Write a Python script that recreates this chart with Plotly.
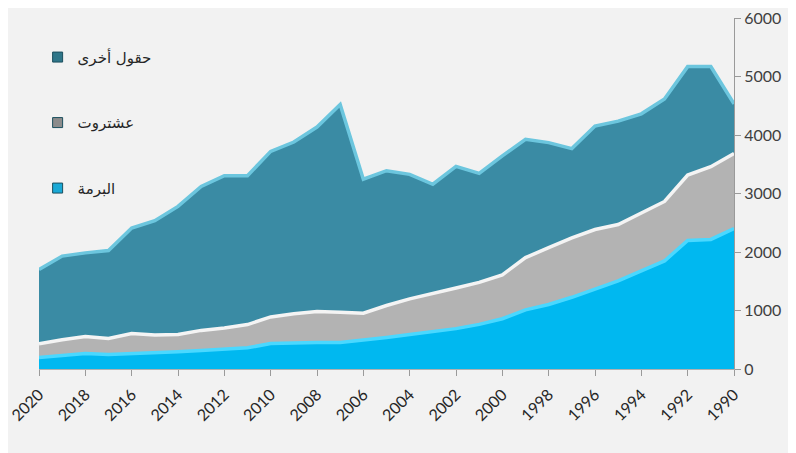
import plotly.graph_objects as go

years = list(range(2020, 1989, -1))

# البرمة (bottom layer)
burma = [198, 230, 265, 250, 255, 280, 293, 316, 333, 362, 435, 446, 452, 452, 491, 537,
         588, 632, 690, 763, 859, 1011, 1102, 1226, 1367, 1508, 1678, 1847, 2197, 2215, 2400]
# عشتروت (middle layer)
ashtarout = [232, 270, 290, 270, 350, 300, 297, 344, 367, 398, 455, 498, 531, 520, 464, 548,
             610, 662, 694, 717, 751, 893, 971, 1017, 1017, 961, 988, 1017, 1119, 1243, 1283]
# حقول أخرى (top layer)
others = [1270, 1430, 1430, 1505, 1805, 1955, 2190, 2460, 2605, 2545, 2830, 2936, 3153, 3548, 2290, 2305,
          2129, 1864, 2079, 1864, 2034, 2023, 1797, 1525, 1769, 1768, 1696, 1752, 1853, 1711, 848]

names = ["البرمة", "عشتروت", "حقول أخرى"]
series = [burma, ashtarout, others]
fills = ["#00b8f0", "#b3b3b3", "#3a8ba4"]
edges = ["#4ad8ff", "#f4f4f4", "#6cc6de"]
legend_cols = ["#1aa9d6", "#8c8c8c", "#2f7689"]
legend_rank = [3, 2, 1]

x_ticks = list(range(2020, 1989, -2))
y_ticks = [0, 1000, 2000, 3000, 4000, 5000, 6000]

fig = go.Figure()
for i, (nm, vals) in enumerate(zip(names, series)):
    fig.add_trace(go.Scatter(
        x=years, y=vals, name=nm, stackgroup="one", mode="lines",
        line=dict(color=edges[i], width=3.5, shape="linear"),
        fillcolor=fills[i], showlegend=False,
    ))
for i, nm in enumerate(names):
    fig.add_trace(go.Scatter(
        x=[None], y=[None], name=nm, mode="markers",
        marker=dict(symbol="square", size=10, color=legend_cols[i],
                    line=dict(color="#1b4f5e", width=1)),
        legendgroup=f"g{i}", legendrank=legend_rank[i], showlegend=True,
    ))

fig.update_layout(
    width=788, height=445,
    paper_bgcolor="#f2f2f2", plot_bgcolor="#f2f2f2",
    margin=dict(l=31, r=62, t=10, b=84, autoexpand=False),
    showlegend=True,
    legend=dict(x=-0.002, y=0.935, xanchor="left", yanchor="top",
                traceorder="grouped", tracegroupgap=43, itemwidth=30,
                bgcolor="rgba(0,0,0,0)",
                font=dict(family="DejaVu Sans", size=15, color="#262626")),
    font=dict(family="Lato, Open Sans, sans-serif", color="#404040"),
)
fig.update_xaxes(
    range=[2020, 1990], tickvals=x_ticks, ticktext=[str(v) for v in x_ticks],
    tickangle=-45, ticks="outside", ticklen=6, tickcolor="#9a9a9a",
    showline=True, linecolor="#b0b0b0", showgrid=False, zeroline=False,
    tickfont=dict(size=16, color="#262626"), automargin=False,
    ticklabeloverflow="allow", ticklabelstandoff=3,
)
fig.update_yaxes(
    range=[0, 6000], tickvals=y_ticks, side="right",
    ticks="outside", ticklen=6, tickcolor="#9a9a9a",
    showline=True, linecolor="#9a9a9a", showgrid=False, zeroline=False,
    tickfont=dict(size=16, color="#404040"), automargin=False,
    ticklabeloverflow="allow",
)

fig.write_html("out.html")
